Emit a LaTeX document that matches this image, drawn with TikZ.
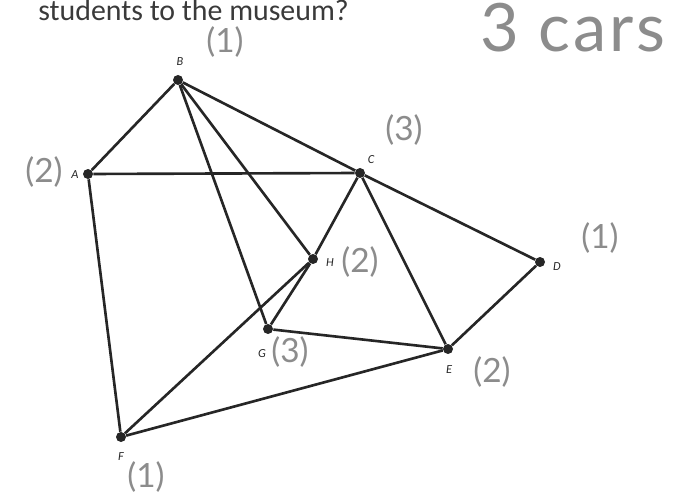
\documentclass[tikz,border=0pt]{standalone}
\usepackage{fontspec}
\setmainfont{Carlito}
\newfontfamily\handfont{Lato}
\usepackage{xcolor}
\definecolor{print-grey}{HTML}{3A3A3A}
\definecolor{pencil-grey}{HTML}{8C8C8C}
\definecolor{ink-dark}{HTML}{262626}

\begin{document}
\begin{tikzpicture}[x=0.02cm, y=-0.02cm,
      vertex/.style={circle, fill=ink-dark, inner sep=0pt, minimum size=0.2cm},
      edge/.style={draw=ink-dark, line width=1.5pt},
      letter/.style={font=\fontsize{7}{8}\selectfont\itshape, text=ink-dark, inner sep=0pt},
      count/.style={font=\handfont\fontsize{19}{21}\selectfont, text=pencil-grey, inner sep=0pt}]
    \useasboundingbox (0,0) rectangle (685,496);
    \node[anchor=base west, inner sep=0pt, text=print-grey,
          font=\fontsize{17}{19}\selectfont] (Q) at (38,21) {students to the museum?};
    \node[anchor=base west, inner sep=0pt, text=pencil-grey,
          font=\handfont\fontsize{38}{40}\selectfont\addfontfeatures{LetterSpace=4}] (ANS)
          at (480,52) {3 cars};
    \node[vertex] (B) at (178,80) {};
    \node[vertex] (A) at (88,174) {};
    \node[vertex] (C) at (360,173) {};
    \node[vertex] (H) at (313,259) {};
    \node[vertex] (D) at (540,262) {};
    \node[vertex] (G) at (268,329) {};
    \node[vertex] (E) at (448,349) {};
    \node[vertex] (F) at (121,437) {};
    \draw[edge] (B) -- (A);
    \draw[edge] (B) -- (C);
    \draw[edge] (B) -- (G);
    \draw[edge] (B) -- (H);
    \draw[edge] (A) -- (C);
    \draw[edge] (A) -- (F);
    \draw[edge] (C) -- (H);
    \draw[edge] (C) -- (E);
    \draw[edge] (C) -- (D);
    \draw[edge] (D) -- (E);
    \draw[edge] (G) -- (E);
    \draw[edge] (G) -- (H);
    \draw[edge] (H) -- (F);
    \draw[edge] (F) -- (E);
    \node[letter] (LB) at (180,62) {B};
    \node[letter] (LA) at (75,175) {A};
    \node[letter] (LC) at (371,160) {C};
    \node[letter] (LH) at (330,263) {H};
    \node[letter] (LD) at (557,267) {D};
    \node[letter] (LG) at (262,354) {G};
    \node[letter] (LE) at (449,370) {E};
    \node[letter] (LF) at (121,457) {F};
    \node[count] (NB) at (225,42) {(1)};
    \node[count] (NA) at (44,172) {(2)};
    \node[count] (NC) at (404,130) {(3)};
    \node[count] (NH) at (360,262) {(2)};
    \node[count] (ND) at (600,238) {(1)};
    \node[count] (NG) at (290,352) {(3)};
    \node[count] (NE) at (492,372) {(2)};
    \node[count] (NF) at (146,477) {(1)};
  \end{tikzpicture}
\end{document}
